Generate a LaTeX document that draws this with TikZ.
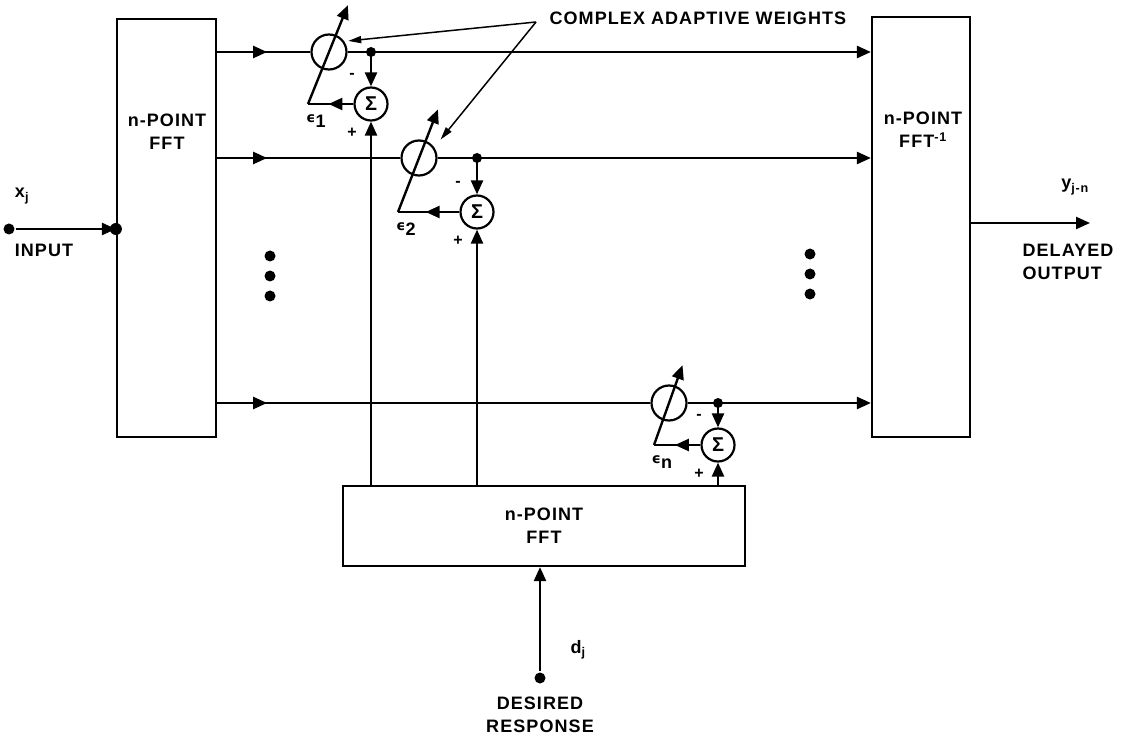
\documentclass[tikz,border=0pt]{standalone}
\usepackage{fontspec}
\setmainfont{Liberation Sans}[LetterSpace=6]
\newfontfamily\epsfont{DejaVu Sans}
\usetikzlibrary{arrows.meta, decorations.markings, calc}
\tikzset{
  blk/.style={draw, line width=2.2pt, inner sep=0pt},
  wgt/.style={draw, circle, line width=2.2pt, minimum size=35pt, inner sep=0pt},
  sumnode/.style={draw, circle, line width=2.2pt, minimum size=33pt, inner sep=0pt,
    font=\fontsize{20}{20}\selectfont\bfseries},
  blob/.style={circle, fill, inner sep=0pt, minimum size=11pt},
  midarrow/.style={postaction={decorate}, decoration={markings,
    mark=at position #1 with {\arrow{Triangle[length=14pt,width=12pt]}}}},
  callout/.style={line width=1.5pt, -{Triangle[length=13pt,width=7pt]}},
  sgn/.style={font=\fontsize{16}{16}\selectfont\bfseries},
}

\begin{document}
\begin{tikzpicture}[x=1pt, y=-1pt, line width=2.4pt,
  font=\fontsize{18}{23}\selectfont\bfseries,
  >={Triangle[length=14pt,width=12pt]}]
\useasboundingbox (0,0) rectangle (1127,735);
% transform blocks
\node[blk, minimum width=99pt, minimum height=418pt] (fftL) at (166.5,228) {};
\node[blk, minimum width=98pt, minimum height=420pt] (fftR) at (921,227) {};
\node[blk, minimum width=402pt, minimum height=80pt, align=center] (fftB) at (544,526) {n-POINT\\FFT};
\node[align=center] (tL) at (167,132) {n-POINT\\FFT};
\node[align=center] (tR) at (923,130) {n-POINT\\FFT\textsuperscript{-1}};
% one weight per frequency bin: row, weight, error sum
\foreach \k/\wx/\ry/\sx/\sy/\cx in {1/329/52/371/104/308, 2/419/158/477/212/398, n/669/403/718/445/654}{
  \node[wgt] (w\k) at (\wx,\ry) {};
  \node[sumnode] (s\k) at (\sx,\sy) {Σ};
  \coordinate (j\k) at (\sx,\ry);
  \coordinate (c\k) at (\cx,\sy);
  \draw[midarrow=50pt] (fftL.east |- w\k) -- (w\k.west);
  \draw[->] (w\k.east) -- (fftR.west |- w\k);
  \fill (j\k) circle (5pt);
  \draw[->] (j\k) -- (s\k.north);
  \draw[->] (s\k |- fftB.north) -- (s\k.south);
  \draw[midarrow=0.55] (s\k.west) -- (c\k);
  \draw[->] (c\k) -- ($(c\k)!1.9!(w\k)$);
  \node[sgn] at ($(s\k)+(-19,-28)$) {-};
  \node[sgn] at ($(s\k)+(-19,29)$) {+};
  \node at ($(c\k)+(8,17)$) {\raisebox{5pt}{\fontsize{14}{14}\selectfont\epsfont ϵ}\k};
}
% continuation dots
\foreach \yy in {256,276,296}{
  \fill (270,\yy) circle (5.5pt);
  \fill (810,\yy-2) circle (5.5pt);
}
% callout
\node[anchor=west] (cw) at (545,18) {COMPLEX ADAPTIVE WEIGHTS};
\coordinate (cwp) at (536,22);
\draw[callout, shorten >=4pt] (cwp) -- (w1.35);
\draw[callout, shorten >=10pt] (cwp) -- (w2.35);
% input
\node[blob] (xin) at (9,229) {};
\draw[->] (xin) -- (fftL.west |- xin);
\fill (fftL.west |- xin) circle (6pt);
\node at (22,196) {x\textsubscript{j}};
\node at (44,250) {INPUT};
% output
\coordinate (yout) at (1090,223);
\draw[->] (fftR.east |- yout) -- (yout);
\node at (1075,187) {y\textsubscript{j-n}};
\node[align=left] at (1068,262) {DELAYED\\OUTPUT};
% desired response
\node[blob] (din) at (540,678) {};
\draw[->] (din) -- (din |- fftB.south);
\node at (578,650) {d\textsubscript{j}};
\node[align=center] at (540,715) {DESIRED\\RESPONSE};
\end{tikzpicture}
\end{document}
